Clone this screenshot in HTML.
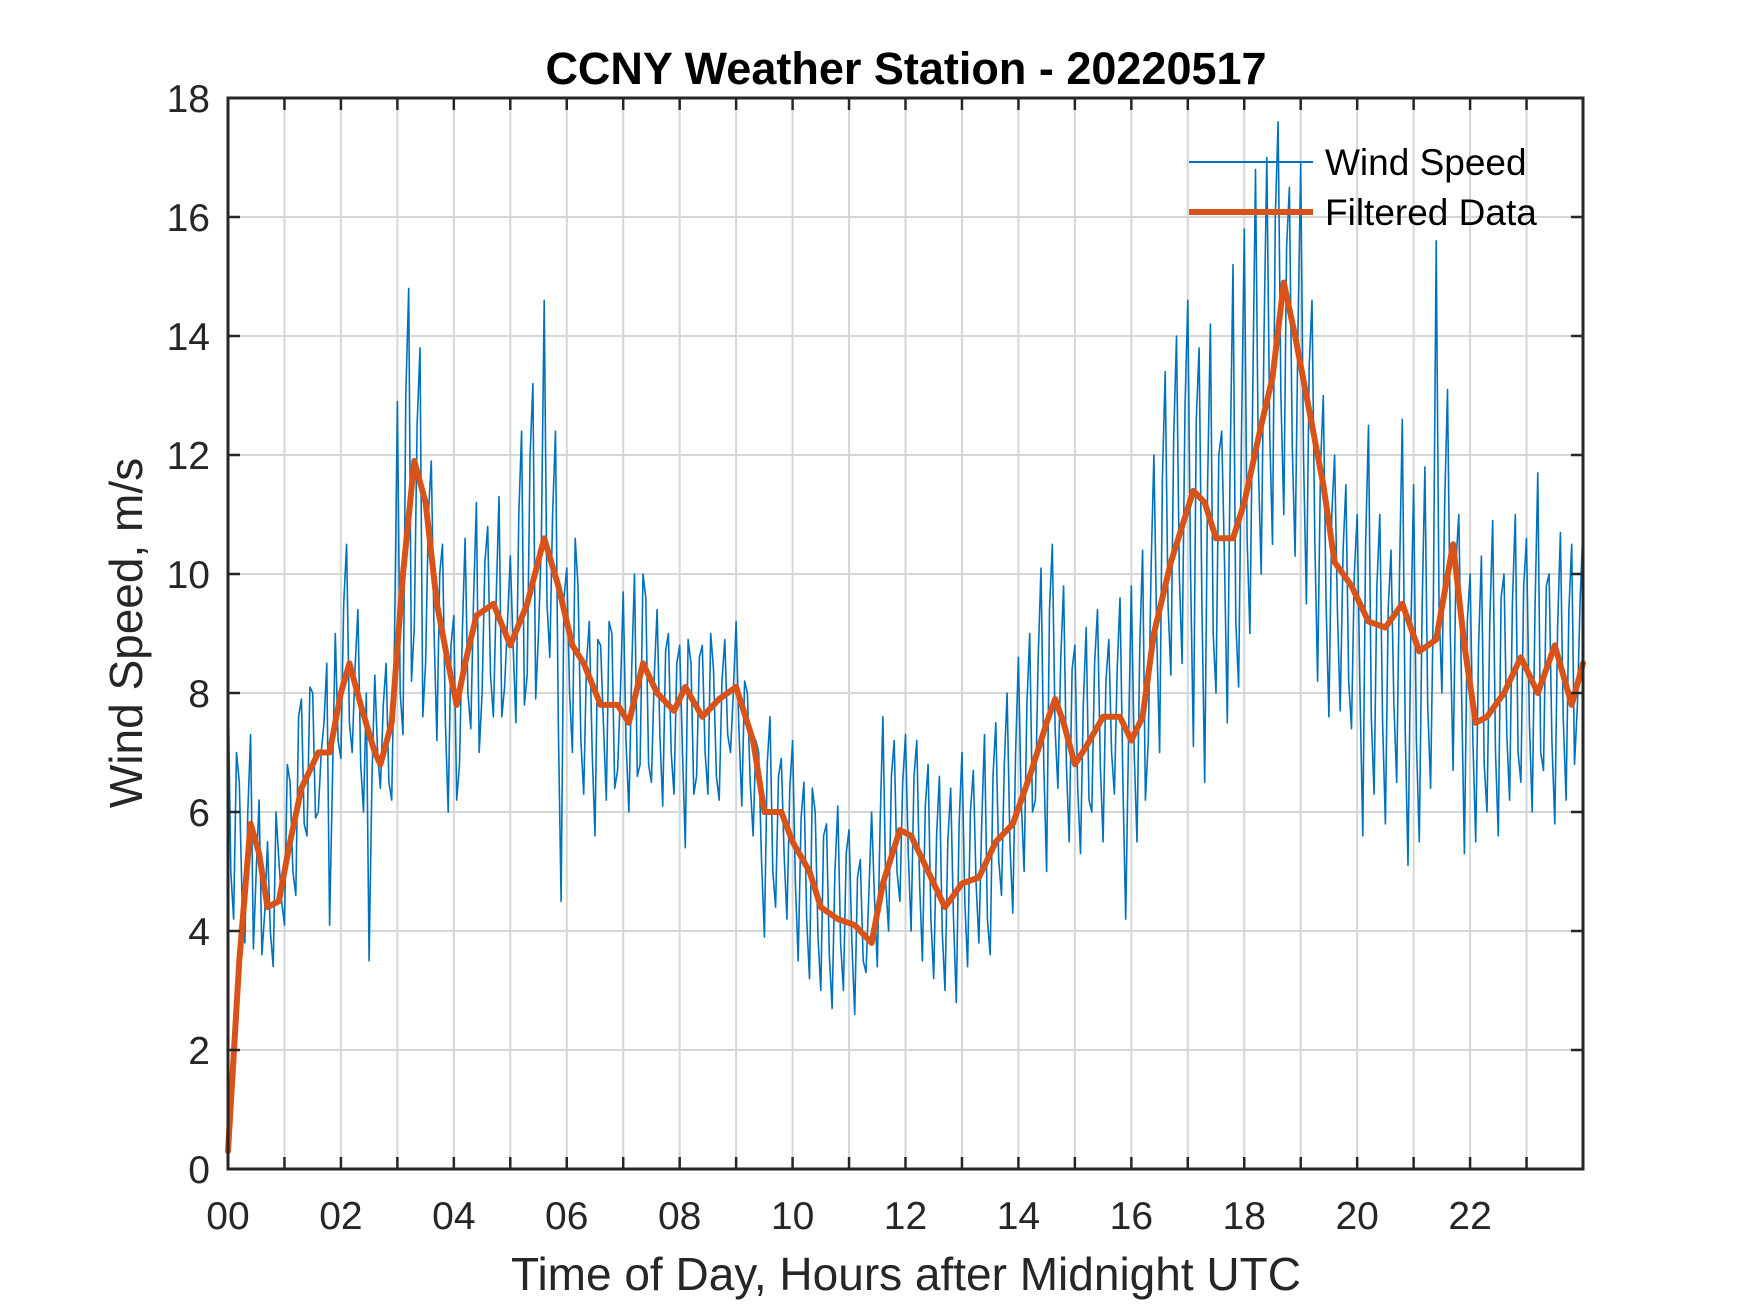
<!DOCTYPE html>
<html><head><meta charset="utf-8"><style>
body{margin:0;background:#fff}
svg{display:block;font-family:"Liberation Sans",Arial,sans-serif}
</style></head><body>
<svg id="chart" width="1750" height="1313" viewBox="0 0 1750 1313">
<rect width="1750" height="1313" fill="#fff"/>
<g id="grid"></g>
<g id="data"></g>
<g id="axes"></g>
<text x="906" y="84" text-anchor="middle" font-size="45" font-weight="bold" fill="#000">CCNY Weather Station - 20220517</text>
<text x="906" y="1290" text-anchor="middle" font-size="46" fill="#262626">Time of Day, Hours after Midnight UTC</text>
<text transform="translate(142,633) rotate(-90)" text-anchor="middle" font-size="46" fill="#262626">Wind Speed, m/s</text>
<g>
<line x1="1189" y1="162" x2="1313" y2="162" stroke="#0072BD" stroke-width="2"/>
<text x="1325" y="175" font-size="37" fill="#000">Wind Speed</text>
<line x1="1189" y1="212" x2="1313" y2="212" stroke="#D95319" stroke-width="6"/>
<text x="1325" y="225" font-size="37" fill="#000">Filtered Data</text>
</g>
</svg>
<script>
const rawValuesA = [
8.3,4.2,6.5,3.8,7.3,5.0,3.6,5.5,3.4,5.2,
4.1,6.5,4.6,7.9,5.6,8.0,6.0,7.5,4.1,9.0,
6.9,10.5,7.0,9.4,6.0,3.5,8.3,6.4,8.5,6.2,
12.9,7.3,14.8,9.1,13.8,8.5,11.9,7.2,10.5,6.0,
9.3,6.8,10.6,7.4,11.2,8.0,10.8,7.6,11.3,8.1,
10.3,7.5,12.4,8.3,13.2,9.0,14.6,8.6,12.4,4.5,
10.1,7.0,9.8,6.3,9.2,5.6,8.8,6.2,9.0,6.7,
9.7,6.0,10.0,6.8,9.6,6.5,9.4,6.1,9.0,6.3,
8.8,5.4,8.5,6.6,8.8,6.3,8.4,6.2,8.9,7.0,
9.2,6.1,8.0,5.6,7.0,3.9,7.6,4.4,6.9,4.2,
7.2,3.5,6.5,3.2,6.0,3.0,5.8,2.7,6.1,3.0,
5.7,2.6,5.2,3.3,6.0,3.4,7.6,4.0,7.2,4.5,
7.3,4.0,7.2,3.5,6.8,3.2,6.6,3.0,6.4,2.8,
7.0,3.4,6.7,3.8,7.3,3.6,7.5,4.6,8.0,4.3,
8.6,5.0,9.0,6.2,10.1,5.0,10.5,6.4,9.8,5.5,
8.8,5.3,9.1,6.0,9.4,5.5,8.9,6.3,9.6,4.2,
9.8,5.5,10.4,7.2,12.0,7.0,13.4,8.3,14.0,8.5,
14.6,7.1,13.8,6.5,14.2,8.0,12.4,7.5,15.2,8.1,
15.8,9.0,16.8,10.0,17.0,10.5,17.6,11.0,16.5,10.3,
16.9,9.5,14.6,8.2,13.0,7.6,12.0,7.7,11.5,7.4,
11.0,5.6,12.5,6.3,11.0,5.8,10.4,6.5,12.6,5.1,
11.5,5.5,11.8,6.4,15.6,8.0,13.1,6.7,11.0,5.3,
10.0,5.5,10.3,6.0,10.9,5.6,10.0,6.2,11.0,6.5,
10.6,6.0,11.7,6.7,10.0,5.8,10.7,6.2,10.5,7.8,
10.8];
const rawValuesB = [
5.0,7.0,4.5,6.0,3.7,6.2,4.3,4.0,6.0,4.5,
6.8,5.0,7.6,5.8,8.1,5.9,7.0,8.5,6.5,7.2,
9.5,7.5,8.4,6.8,8.0,6.6,7.0,7.8,6.5,9.0,
8.0,13.0,8.2,12.5,7.6,11.0,9.0,10.0,7.5,8.8,
6.2,9.0,8.0,9.6,7.0,10.2,8.3,9.6,7.6,9.2,
8.8,11.0,7.8,12.0,7.9,10.5,9.5,11.0,7.5,9.6,
8.0,10.6,7.2,8.5,7.0,8.9,7.5,9.2,6.4,8.0,
7.2,8.4,6.6,10.0,6.8,8.3,7.3,8.7,7.0,8.5,
7.0,8.9,6.3,8.6,7.0,9.0,6.6,8.2,7.3,8.0,
7.4,8.2,6.5,7.2,5.2,6.8,5.0,6.6,5.3,6.4,
4.8,5.9,4.2,6.4,3.9,5.6,3.6,5.0,3.8,5.3,
3.8,4.9,3.5,4.6,4.6,5.8,4.8,6.6,5.0,6.5,
5.3,6.6,4.8,6.1,4.2,5.6,4.0,5.5,4.2,5.8,
4.5,6.0,4.8,5.8,4.2,6.6,5.2,6.8,5.5,7.0,
6.2,7.8,6.0,8.6,6.8,9.4,7.4,8.6,6.8,8.4,
6.4,7.8,6.2,8.5,6.8,8.2,7.0,8.4,6.5,7.2,
7.0,8.8,6.2,10.1,9.0,11.6,9.5,12.3,10.0,12.8,
10.0,12.6,9.5,11.5,9.0,12.0,10.2,11.8,9.2,12.2,
10.6,13.0,11.8,14.0,12.4,16.0,13.0,15.5,12.2,14.0,
12.0,13.5,10.6,11.8,9.5,11.0,9.4,10.4,8.2,10.0,
8.0,10.5,7.6,9.8,7.5,9.4,7.8,10.0,7.4,9.0,
7.2,9.4,7.8,9.6,9.5,11.2,9.0,10.2,8.0,9.2,
7.2,8.8,6.8,9.2,7.0,9.6,7.3,9.5,7.0,9.8,
7.5,9.4,7.0,9.8,7.2,9.1,7.6,9.4,6.8,9.6];
const rawStepHours = 0.1;
const filtHours = [0,0.2,0.4,0.55,0.7,0.9,1.1,1.3,1.6,1.8,2.0,2.15,2.35,2.6,2.7,2.9,3.1,3.3,3.5,3.7,3.9,4.05,4.2,4.4,4.7,5.0,5.3,5.6,5.85,6.1,6.3,6.6,6.9,7.1,7.35,7.6,7.9,8.1,8.4,8.7,9.0,9.3,9.5,9.8,10.0,10.3,10.5,10.8,11.1,11.4,11.6,11.9,12.1,12.4,12.7,13.0,13.3,13.6,13.9,14.2,14.5,14.65,14.8,15.0,15.2,15.5,15.8,16.0,16.2,16.4,16.7,16.9,17.1,17.3,17.5,17.8,18.0,18.3,18.5,18.7,18.9,19.1,19.4,19.6,19.9,20.2,20.5,20.8,21.1,21.4,21.7,21.9,22.1,22.3,22.6,22.9,23.2,23.5,23.8,24.0];
const filtValues = [0.3,3.5,5.8,5.3,4.4,4.5,5.5,6.4,7.0,7.0,8.0,8.5,7.8,7.0,6.8,7.5,10,11.9,11.2,9.5,8.5,7.8,8.5,9.3,9.5,8.8,9.5,10.6,9.8,8.8,8.5,7.8,7.8,7.5,8.5,8.0,7.7,8.1,7.6,7.9,8.1,7.2,6.0,6.0,5.5,5.0,4.4,4.2,4.1,3.8,4.8,5.7,5.6,5.0,4.4,4.8,4.9,5.5,5.8,6.6,7.5,7.9,7.5,6.8,7.1,7.6,7.6,7.2,7.6,9.0,10.2,10.8,11.4,11.2,10.6,10.6,11.2,12.5,13.3,14.9,14.0,13.0,11.5,10.2,9.8,9.2,9.1,9.5,8.7,8.9,10.5,8.8,7.5,7.6,8.0,8.6,8.0,8.8,7.8,8.5];
const xTickLabels = ["00","02","04","06","08","10","12","14","16","18","20","22"];
const yTickLabels = [0,2,4,6,8,10,12,14,16,18];

const L=228,R=1583,T=98,B=1169, XMAX=24, YMAX=18;
const sx=h=>L+(R-L)*h/XMAX;
const sy=v=>B-(B-T)*v/YMAX;
const NS="http://www.w3.org/2000/svg";
function mk(tag,attrs,parent){const e=document.createElementNS(NS,tag);for(const k in attrs)e.setAttribute(k,attrs[k]);parent.appendChild(e);return e;}
const grid=document.getElementById('grid'),data=document.getElementById('data'),axes=document.getElementById('axes');
for(let h=1;h<XMAX;h++){
  const g=mk('line',{x1:sx(h),x2:sx(h),y1:T,y2:B,stroke:'#d6d6d6','stroke-width':2},grid);
  
  
}
yTickLabels.forEach(v=>{
  if(v===0||v===YMAX)return;
  const g=mk('line',{x1:L,x2:R,y1:sy(v),y2:sy(v),stroke:'#d6d6d6','stroke-width':2},grid);
  
  
});
const rawPtsArr=[];
rawValuesA.forEach((v,i)=>{
  rawPtsArr.push(sx(i*rawStepHours).toFixed(1)+','+sy(v).toFixed(1));
  if(i<rawValuesB.length) rawPtsArr.push(sx(i*rawStepHours+rawStepHours/2).toFixed(1)+','+sy(rawValuesB[i]).toFixed(1));
});
const rl=mk('polyline',{points:rawPtsArr.join(' '),fill:'none',stroke:'#0072BD','stroke-width':1.6,'stroke-linejoin':'round'},data);


const fPts=filtHours.map((h,i)=>sx(h).toFixed(1)+','+sy(filtValues[i]).toFixed(1)).join(' ');
const fl=mk('polyline',{points:fPts,fill:'none',stroke:'#D95319','stroke-width':6,'stroke-linejoin':'round','stroke-linecap':'round'},data);


const box=mk('rect',{x:L,y:T,width:R-L,height:B-T,fill:'none',stroke:'#262626','stroke-width':3},axes);


for(let h=1;h<XMAX;h++){
  mk('line',{x1:sx(h),x2:sx(h),y1:B,y2:B-12,stroke:'#262626','stroke-width':2.5},axes);
  mk('line',{x1:sx(h),x2:sx(h),y1:T,y2:T+12,stroke:'#262626','stroke-width':2.5},axes);
}
xTickLabels.forEach((s,i)=>{
  const t=mk('text',{x:sx(i*2),y:1229,'text-anchor':'middle','font-size':39,fill:'#262626'},axes);
  t.textContent=s;
  
  
});
yTickLabels.forEach(v=>{
  mk('line',{x1:L,x2:L+12,y1:sy(v),y2:sy(v),stroke:'#262626','stroke-width':2.5},axes);
  mk('line',{x1:R,x2:R-12,y1:sy(v),y2:sy(v),stroke:'#262626','stroke-width':2.5},axes);
  const t=mk('text',{x:210,y:sy(v)+14,'text-anchor':'end','font-size':39,fill:'#262626'},axes);
  t.textContent=v;
  
  
});
</script>
</body></html>
